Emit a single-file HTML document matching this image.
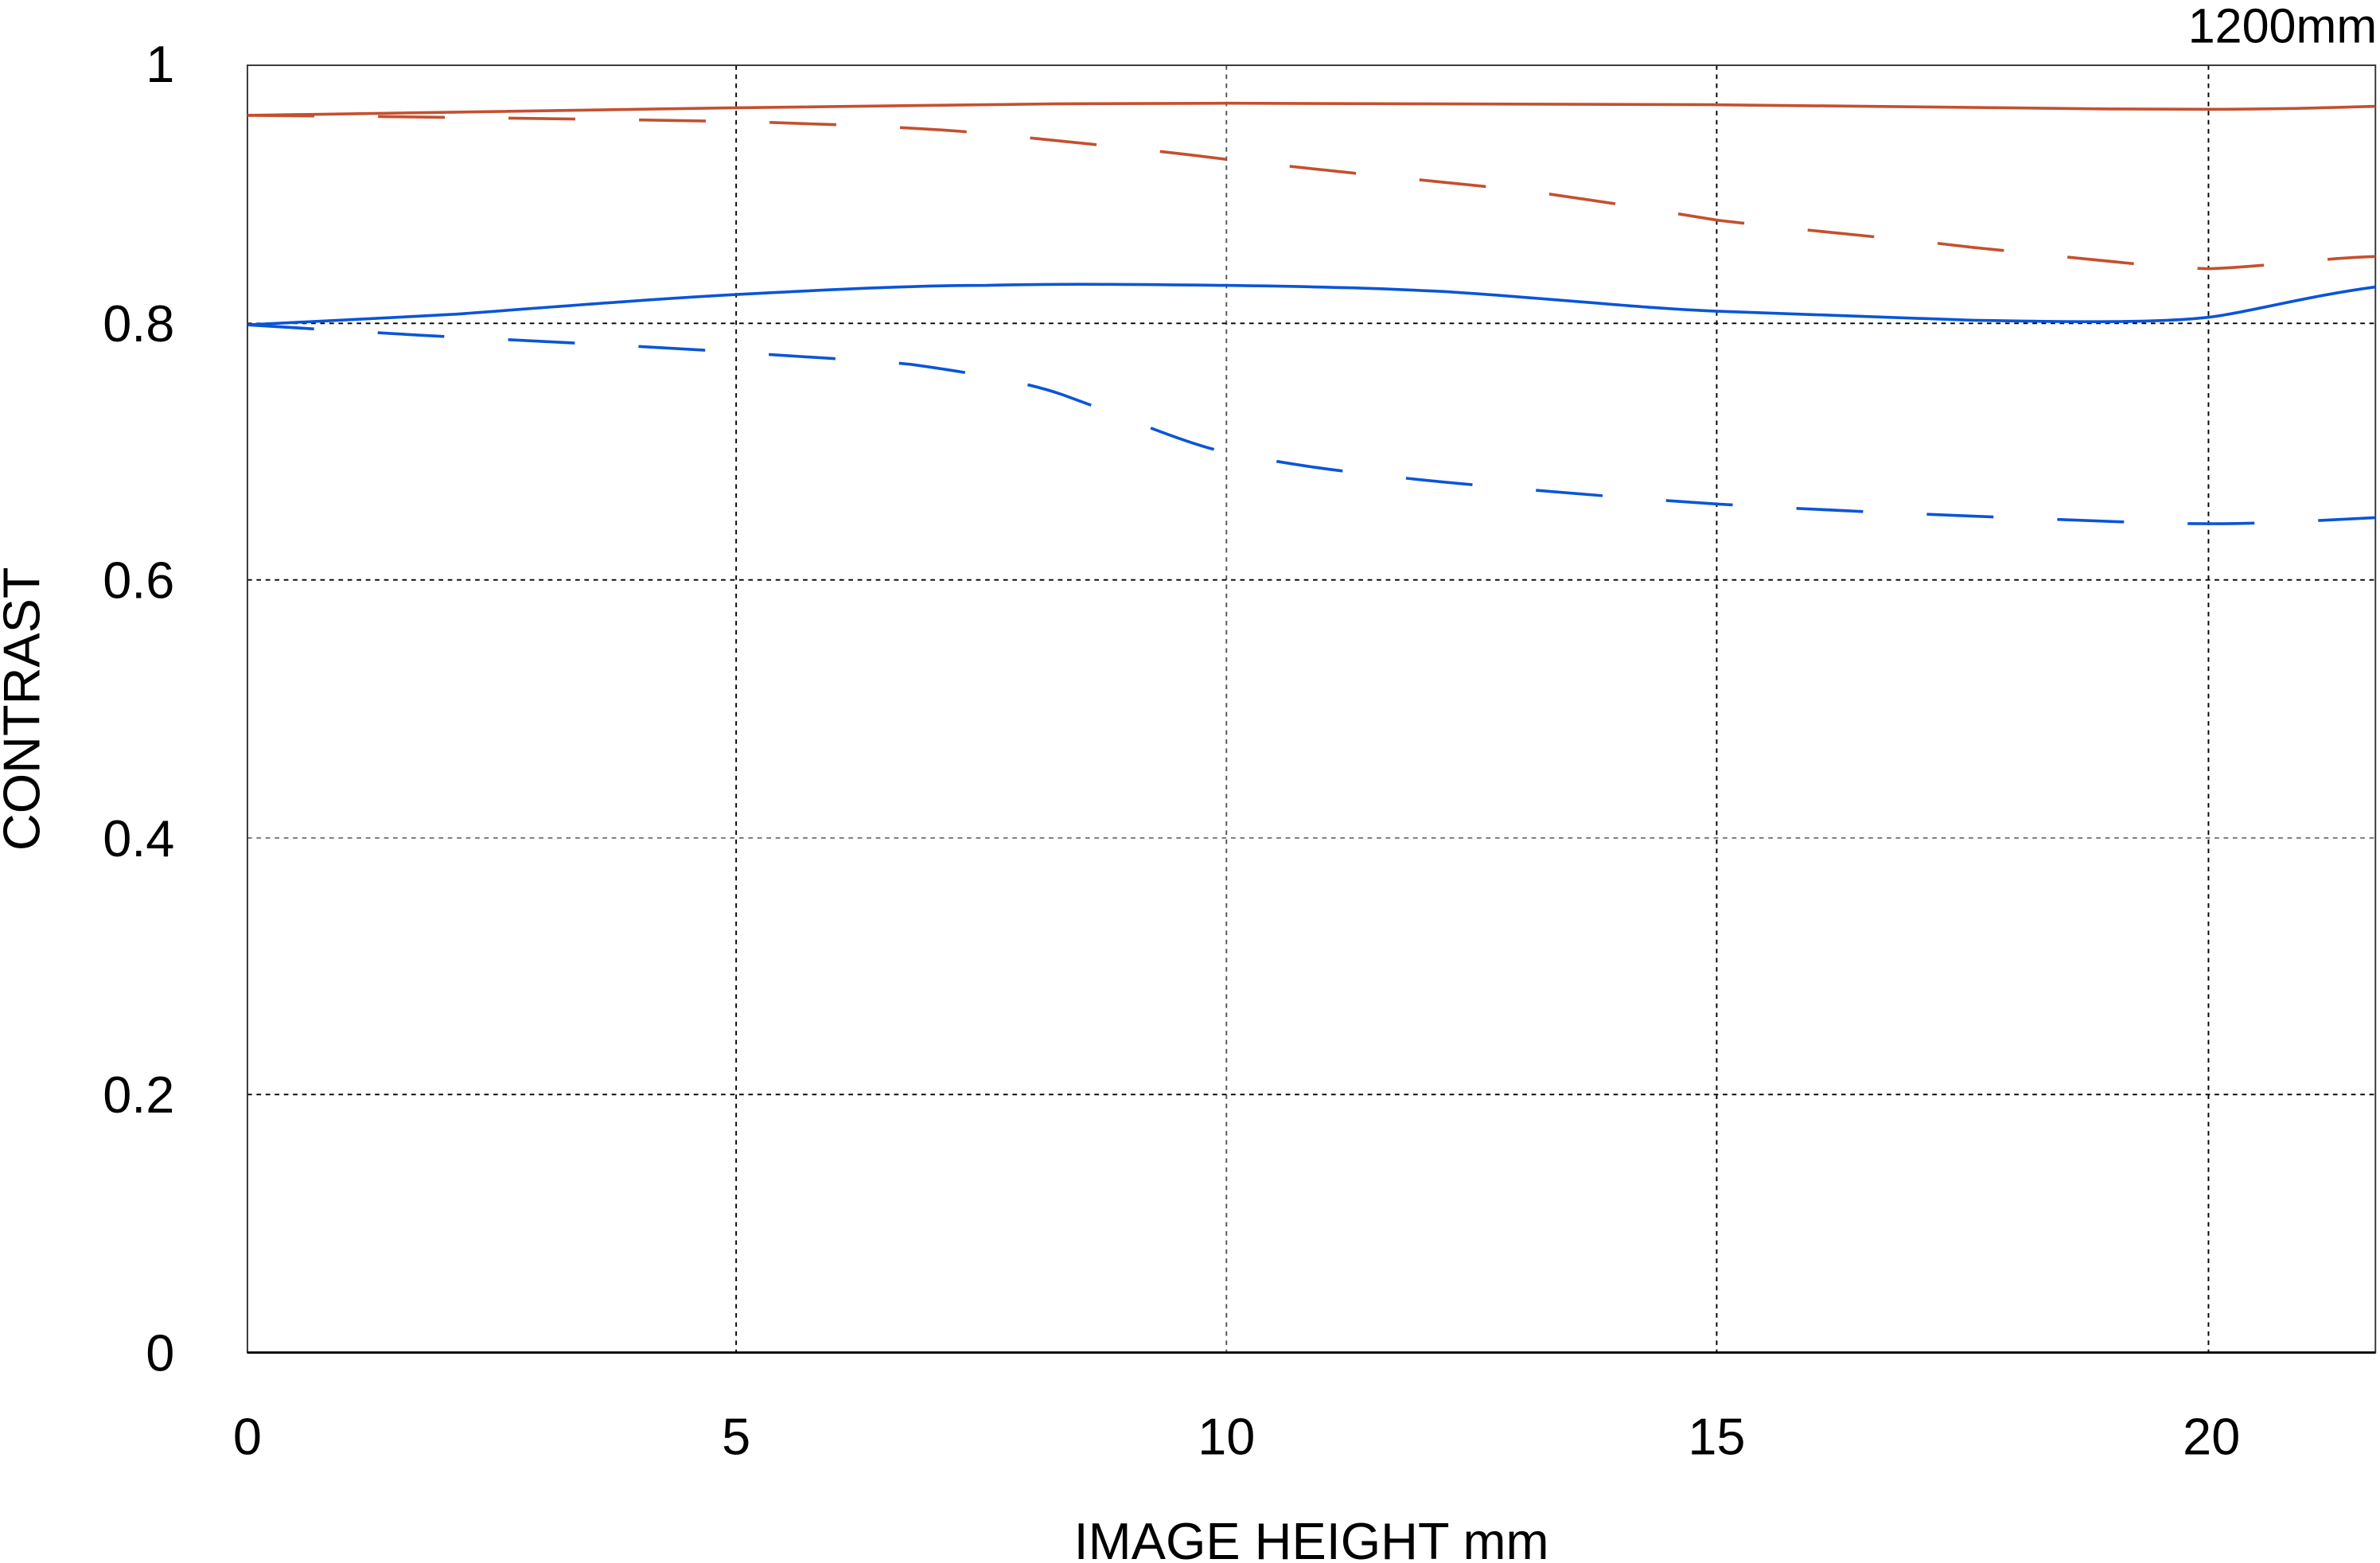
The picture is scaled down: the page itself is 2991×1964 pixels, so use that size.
<!DOCTYPE html>
<html><head><meta charset="utf-8"><style>html,body{margin:0;padding:0;background:#fff}svg{display:block}</style></head>
<body>
<svg width="2991" height="1964" viewBox="0 0 1568 1029.6" preserveAspectRatio="none" xmlns="http://www.w3.org/2000/svg" font-family="Liberation Sans, sans-serif">
<rect width="1568" height="1030" fill="#fff"/>
<g stroke="#000" stroke-width="1" stroke-dasharray="3 3" fill="none">
<line x1="485" y1="43" x2="485" y2="891"/>
<line x1="808" y1="43" x2="808" y2="891" stroke="#555"/>
<line x1="1131" y1="43" x2="1131" y2="891"/>
<line x1="1455" y1="43" x2="1455" y2="891"/>
<line x1="163" y1="213" x2="1565" y2="213"/>
<line x1="163" y1="382" x2="1565" y2="382"/>
<line x1="163" y1="552" x2="1565" y2="552" stroke="#777"/>
<line x1="163" y1="721" x2="1565" y2="721"/>
</g>
<rect x="163" y="43" width="1402" height="848" fill="none" stroke="#333" stroke-width="1"/>
<line x1="163" y1="891" x2="1565" y2="891" stroke="#000" stroke-width="1.5"/>
<g fill="none" stroke-width="1.9">
<path stroke="#c4502f" d="M163,76 C300,74 400,72 485,71 C600,69 700,68 808,68 C950,68 1050,68 1131,69 C1250,70 1350,72 1455,72 C1500,72 1530,71 1565,70"/>
<path stroke="#c4502f" stroke-dasharray="44 42" d="M163,76 C300,77 420,79 485,80 C560,82 620,85 650,88 C720,95 770,100 808,105 C880,113 950,120 1000,125 C1060,133 1100,140 1131,145 C1200,153 1260,158 1300,163 C1380,171 1420,176 1455,177 C1490,176 1530,170 1565,169"/>
<path stroke="#0a55d8" d="M163,214 C230,211 260,209 300,207 C380,201 430,197 485,194 C560,190 610,188 650,188 C690,187 720,187 808,188 C880,189 910,190 950,192 C1030,197 1080,203 1131,205 C1210,208 1260,210 1300,211 C1360,212 1420,213 1455,209 C1480,206 1520,195 1565,189"/>
<path stroke="#0a55d8" stroke-dasharray="44 42" d="M163,214 C230,218 260,220 300,222 C380,226 440,229 485,232 C540,236 570,237 600,240 C650,247 680,253 700,260 C750,278 780,292 808,298 C850,306 880,310 900,312 C950,318 980,320 1000,322 C1060,327 1100,330 1131,332 C1200,336 1250,338 1300,340 C1380,343 1420,345 1455,345 C1500,345 1540,342 1565,341"/>
</g>
<g font-size="34" fill="#000" text-anchor="end">
<text x="115" y="54">1</text>
<text x="115" y="225">0.8</text>
<text x="115" y="394">0.6</text>
<text x="115" y="564">0.4</text>
<text x="115" y="733">0.2</text>
<text x="115" y="903">0</text>
</g>
<g font-size="34" fill="#000" text-anchor="middle">
<text x="163" y="958">0</text>
<text x="485" y="958">5</text>
<text x="808" y="958">10</text>
<text x="1131" y="958">15</text>
<text x="1457" y="958">20</text>
<text x="864" y="1027">IMAGE HEIGHT  mm</text>
<text transform="translate(26,467) rotate(-90)">CONTRAST</text>
</g>
<text x="1566" y="28" font-size="32" text-anchor="end" fill="#000">1200mm</text>
</svg>
</body></html>
